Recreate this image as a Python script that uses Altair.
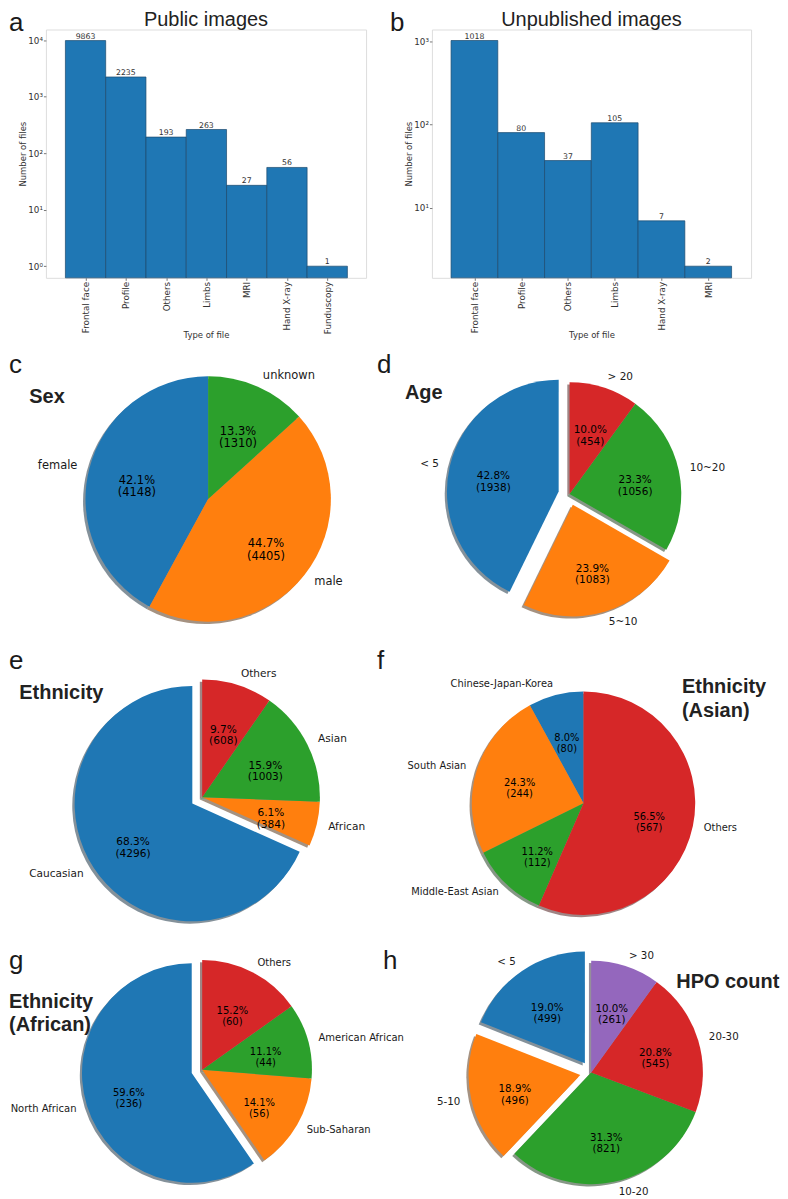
import json
import altair as alt
import pandas as pd

# ---------------- data ----------------
public_types = ["Frontal face", "Profile", "Others", "Limbs", "MRI", "Hand X-ray", "Funduscopy"]
public_counts = [9863, 2235, 193, 263, 27, 56, 1]

unpub_types = ["Frontal face", "Profile", "Others", "Limbs", "Hand X-ray", "MRI"]
unpub_counts = [1018, 80, 37, 105, 7, 2]

sex_labels = ["female", "male", "unknown"]
sex_counts = [4148, 4405, 1310]

age_labels = ["< 5", "5~10", "10~20", "> 20"]
age_counts = [1938, 1083, 1056, 454]

eth_labels = ["Caucasian", "African", "Asian", "Others"]
eth_counts = [4296, 384, 1003, 608]

asian_labels = ["Chinese-Japan-Korea", "South Asian", "Middle-East Asian", "Others"]
asian_counts = [80, 244, 112, 567]

african_labels = ["North African", "Sub-Saharan", "American African", "Others"]
african_counts = [236, 56, 44, 60]

hpo_labels = ["< 5", "5-10", "10-20", "20-30", "> 30"]
hpo_counts = [499, 496, 821, 545, 261]

panel_letters = ["a", "b", "c", "d", "e", "f", "g", "h"]
panel_titles = ["Public images", "Unpublished images", "Sex", "Age", "Ethnicity",
                "Ethnicity|(Asian)", "Ethnicity|(African)", "HPO count"]
superscripts = ["⁰", "¹", "²", "³", "⁴", "⁵"]

# ---------------- styles ----------------
TAB10 = ["#1f77b4", "#ff7f0e", "#2ca02c", "#d62728", "#9467bd"]


def shade(hexcol, f=0.3):
    h = hexcol.lstrip("#")
    r, g, b = (int(h[i:i + 2], 16) for i in (0, 2, 4))
    return "#{:02x}{:02x}{:02x}".format(int(r * f), int(g * f), int(b * f))


SHADOW = [shade(c) for c in TAB10]
KEYS = list(range(len(TAB10)))
FONT = "DejaVu Sans"
HEAD = "Liberation Sans"

# page -> chart coordinates (origin = plot area of panel a at page (45, 27))
OX, OY = 45, 27


def rx(px):
    return px - OX


def ry(py):
    return py - OY


def text_at(txt, x, y, **kw):
    return alt.Chart(pd.DataFrame({"t": [txt]})).mark_text(**kw).encode(
        text="t:N", x=alt.value(x), y=alt.value(y))


def letter(txt, x, y, baseline="alphabetic"):
    return text_at(txt, x, y, font=HEAD, fontSize=26, align="left",
                   baseline=baseline, color="#1a1a1a")


def bar_panel(types, counts, width, xdom, ydom, yvals, let, let_x, title, ytitle_x):
    df = pd.DataFrame({"type": types, "count": counts, "k": list(range(len(types)))})
    xs = alt.Scale(domain=xdom, nice=False, zero=False)
    ys = alt.Scale(type="log", domain=ydom, nice=False)
    names = json.dumps(types)
    sup = json.dumps(superscripts, ensure_ascii=False)
    xaxis = alt.Axis(values=list(range(len(types))),
                     labelExpr=f"{names}[datum.value]", labelAngle=-90,
                     labelFlush=False, labelOverlap=False,
                     title="Type of file", titleX=width / 2, titleY=57.3,
                     titleBaseline="middle")
    yaxis = alt.Axis(values=yvals,
                     labelExpr=f"'10' + {sup}[round(log(datum.value)/LN10)]",
                     labelOverlap=False, labelFlush=False,
                     title="Number of files", titleX=ytitle_x, titleY=124.5,
                     titleBaseline="middle")
    base = alt.Chart(df).transform_calculate(x0="datum.k - 0.5", x1="datum.k + 0.5")
    bars = base.mark_bar(orient="vertical", fill="#1f77b4", stroke="#1b4a6e",
                         strokeWidth=0.7).encode(
        x=alt.X("x0:Q", scale=xs, axis=xaxis),
        x2="x1:Q",
        y=alt.Y("count:Q", scale=ys, axis=yaxis),
        y2=alt.datum(ydom[0]),
    )
    vals = base.mark_text(font=FONT, fontSize=7.8, color="#333", baseline="alphabetic",
                          dy=-2).encode(
        x=alt.X("k:Q", scale=xs, axis=xaxis),
        y=alt.Y("count:Q", scale=ys, axis=yaxis),
        text=alt.Text("count:Q", format="d"),
    )
    let_l = letter(let, let_x, -19, baseline="top")
    title_l = text_at(title, width / 2, -19, font=HEAD, fontSize=20, align="center",
                      baseline="top", color="#222")
    return [bars, vals, let_l, title_l]


def pie(labels, counts, cx, cy, r, fs, explode=()):
    df = pd.DataFrame({"label": labels, "n": counts, "k": list(range(len(labels)))})
    ex = " || ".join(f"datum.k == {i}" for i in explode) or "false"
    base = (
        alt.Chart(df)
        .transform_joinaggregate(total="sum(n)")
        .transform_window(cum="sum(n)", sort=[alt.SortField("k", order="ascending")],
                          frame=[None, 0])
        .transform_calculate(c1="datum.cum / datum.total")
        .transform_calculate(c0="(datum.cum - datum.n) / datum.total")
        .transform_calculate(m="(datum.c0 + datum.c1) / 2")
        .transform_calculate(a0="2*PI*(1 - datum.c1)")
        .transform_calculate(a1="2*PI*(1 - datum.c0)")
        .transform_calculate(e=f"({ex}) ? 0.1 : 0")
        .transform_calculate(ux="-sin(2*PI*datum.m)")
        .transform_calculate(uy="-cos(2*PI*datum.m)")
        .transform_calculate(ox=f"{cx} + datum.e*{r}*datum.ux")
        .transform_calculate(oy=f"{cy} + datum.e*{r}*datum.uy")
        .transform_calculate(sx=f"datum.ox - {0.02 * r}")
        .transform_calculate(sy=f"datum.oy + {0.02 * r}")
        .transform_calculate(lx=f"datum.ox + {1.1 * r}*datum.ux")
        .transform_calculate(ly=f"datum.oy + {1.1 * r}*datum.uy")
        .transform_calculate(px=f"datum.ox + {0.6 * r}*datum.ux")
        .transform_calculate(py=f"datum.oy + {0.6 * r}*datum.uy")
        .transform_calculate(
            pct="format(100*datum.n/datum.total, '.1f') + '%|(' + datum.n + ')'")
    )
    th = alt.Theta("a0:Q", scale=None, stack=None)
    th2 = alt.Theta2("a1:Q")
    shadow = base.mark_arc(radius=r, opacity=0.5, strokeWidth=0).encode(
        x=alt.X("sx:Q", scale=None),
        y=alt.Y("sy:Q", scale=None),
        theta=th, theta2=th2,
        fill=alt.Fill("k:N", scale=alt.Scale(domain=KEYS, range=SHADOW), legend=None),
    )
    wedge = base.mark_arc(radius=r, strokeWidth=0).encode(
        x=alt.X("ox:Q", scale=None),
        y=alt.Y("oy:Q", scale=None),
        theta=th, theta2=th2,
        color=alt.Color("k:N", scale=alt.Scale(domain=KEYS, range=TAB10), legend=None),
    )
    pct = base.mark_text(font=FONT, fontSize=fs, lineBreak="|", lineHeight=fs * 1.1,
                         align="center", baseline="middle", color="black").encode(
        x=alt.X("px:Q", scale=None),
        y=alt.Y("py:Q", scale=None),
        text="pct:N",
    )
    out = [shadow, wedge, pct]
    for cond, al in ((f"datum.lx > {cx}", "left"), (f"datum.lx <= {cx}", "right")):
        out.append(
            base.transform_filter(cond).mark_text(
                font=FONT, fontSize=fs, align=al, baseline="middle", color="#1a1a1a"
            ).encode(
                x=alt.X("lx:Q", scale=None),
                y=alt.Y("ly:Q", scale=None),
                text="label:N",
            )
        )
    return out


def head(txt, px, py):
    return text_at(txt, rx(px), ry(py), font=HEAD, fontSize=20, fontWeight="bold",
                   align="left", baseline="alphabetic", lineBreak="|", lineHeight=23.4,
                   color="#222")


# ---------------- panel a (+ all pies drawn in its coordinate frame) ----------------
WA, WB, H = 321, 320, 249
layers_a = bar_panel(public_types, public_counts, WA, [-0.86, 6.84], [0.622, 15500],
                     [1, 10, 100, 1000, 10000], panel_letters[0], -37, panel_titles[0], -23.3)

layers_a += pie(sex_labels, sex_counts, rx(207.7), ry(497.7), 123, 11.5)
layers_a += pie(age_labels, age_counts, rx(570), ry(492.7), 112, 10.5, explode=(0, 1))
layers_a += pie(eth_labels, eth_counts, rx(201.7), ry(796.7), 118, 10.6, explode=(0,))
layers_a += pie(asian_labels, asian_counts, rx(584), ry(802.7), 112, 9.9)
layers_a += pie(african_labels, african_counts, rx(201.7), ry(1070), 110, 10.0, explode=(0,))
layers_a += pie(hpo_labels, hpo_counts, rx(591.7), ry(1072.7), 112, 10.3, explode=(0, 1))

layers_a += [
    letter(panel_letters[2], rx(8), ry(371.5)),
    letter(panel_letters[3], rx(377), ry(371)),
    letter(panel_letters[4], rx(8), ry(668)),
    letter(panel_letters[5], rx(377), ry(668)),
    letter(panel_letters[6], rx(8), ry(969)),
    letter(panel_letters[7], rx(383), ry(969)),
    head(panel_titles[2], 28.3, 401.5),
    head(panel_titles[3], 405, 397.5),
    head(panel_titles[4], 18.3, 698),
    head(panel_titles[5], 682.7, 692.6),
    head(panel_titles[6], 8, 1007.6),
    head(panel_titles[7], 677, 987.6),
]

chart_a = alt.layer(*layers_a).properties(width=WA, height=H)

layers_b = bar_panel(unpub_types, unpub_counts, WB, [-0.803, 5.81], [1.45, 1380],
                     [10, 100, 1000], panel_letters[1], -42, panel_titles[1], -23)
chart_b = alt.layer(*layers_b).properties(width=WB, height=H)

chart = (
    alt.hconcat(chart_a, chart_b, spacing=66, bounds="flush")
    .properties(padding=0)
    .configure_view(stroke="#dddddd", strokeWidth=1)
    .configure_axis(
        grid=False, domain=False, labelFont=FONT, labelFontSize=8.8, labelColor="#333",
        titleFont=FONT, titleFontSize=8.5, titleFontWeight="normal", titleColor="#333",
        tickSize=2.5, tickColor="#555", tickWidth=0.8, labelPadding=1,
    )
)

chart.save("out.html", embed_options={"renderer": "svg", "actions": False})
